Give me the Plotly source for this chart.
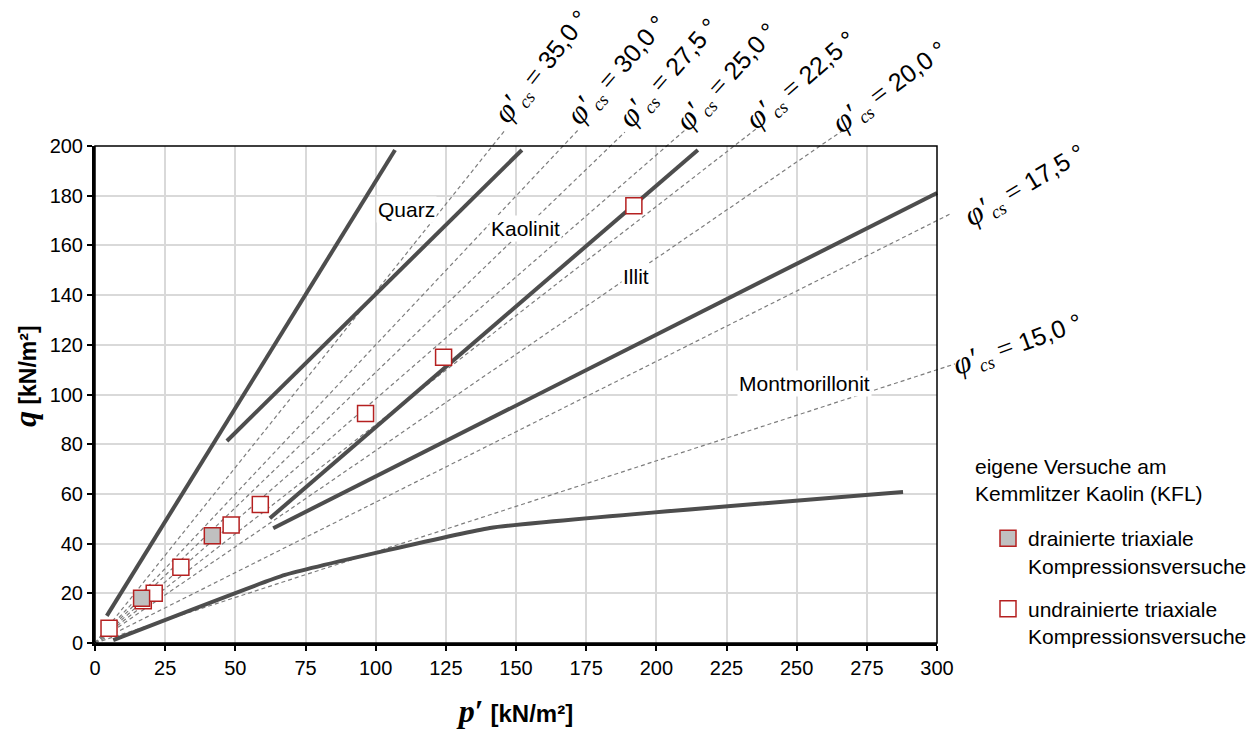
import plotly.graph_objects as go

# ---------------- data ----------------
x_ticks = [0, 25, 50, 75, 100, 125, 150, 175, 200, 225, 250, 275, 300]
y_ticks = [0, 20, 40, 60, 80, 100, 120, 140, 160, 180, 200]

# own tests on Kemmlitzer Kaolin (KFL)
undrained_p = [5.0, 17.2, 21.1, 30.6, 48.5, 58.9, 96.4, 124.2, 192.0]
undrained_q = [5.9, 17.0, 20.0, 30.5, 47.5, 55.7, 92.4, 115.0, 176.0]
drained_p = [16.6, 41.8]
drained_q = [18.0, 43.2]

# critical state lines (from origin to the label end)
cs_labels = ["35,0", "30,0", "27,5", "25,0", "22,5", "20,0", "17,5", "15,0"]
cs_end_p = [146.1, 172.1, 188.8, 210.2, 235.9, 266.6, 304.6, 306.4]
cs_end_q = [206.4, 206.4, 205.6, 206.4, 207.2, 206.4, 172.6, 112.3]

# mineral band boundaries (solid lines)
line1_p, line1_q = [4.2, 106.9], [10.9, 198.4]
line2_p, line2_q = [47.0, 152.1], [81.3, 198.4]
line3_p, line3_q = [62.3, 214.8], [50.2, 198.4]
line4_p, line4_q = [63.5, 300.0], [46.2, 181.1]
line5_p, line5_q = [6.5, 67.7, 140.7, 287.9], [1.2, 27.4, 46.3, 60.8]
mineral_names = ["Quarz", "Kaolinit", "Illit", "Montmorillonit"]

# ---------------- layout constants (pixels) ----------------
W, H = 1257, 729
PL, PR, PT, PB = 95, 937, 146, 643
X_MAX, Y_MAX = 300, 200
sx = X_MAX / (PR - PL)
sy = Y_MAX / (PB - PT)


def fx(px):
    return px / W


def fy(py):
    return 1 - py / H


SANS = "Liberation Sans, Arial, sans-serif"
SOLID = "#4d4d4d"
RED = "#b52020"

fig = go.Figure()

# invisible placeholder so the framed subplot exists
fig.add_trace(go.Scatter(x=[None], y=[None], xaxis="x", yaxis="y",
                         showlegend=False, hoverinfo="skip"))

# dashed critical-state lines (overlay axes with identical scale, not clipped)
for lab, pe, qe in zip(cs_labels, cs_end_p, cs_end_q):
    fig.add_trace(go.Scatter(x=[0, pe], y=[0, qe], mode="lines",
                             xaxis="x2", yaxis="y2", showlegend=False,
                             line=dict(color="#7d7d7d", width=1.2, dash="4px,3px"),
                             hoverinfo="skip"))

# solid boundary lines
for lp, lq in [(line1_p, line1_q), (line2_p, line2_q), (line3_p, line3_q),
               (line4_p, line4_q)]:
    fig.add_trace(go.Scatter(x=lp, y=lq, mode="lines", xaxis="x2", yaxis="y2",
                             showlegend=False, line=dict(color=SOLID, width=4),
                             hoverinfo="skip"))
fig.add_trace(go.Scatter(x=line5_p, y=line5_q, mode="lines", xaxis="x2", yaxis="y2",
                         showlegend=False,
                         line=dict(color=SOLID, width=4, shape="spline", smoothing=0.3),
                         hoverinfo="skip"))

# measured points
fig.add_trace(go.Scatter(x=undrained_p, y=undrained_q, mode="markers",
                         xaxis="x2", yaxis="y2",
                         name="undrainierte triaxiale<br>Kompressionsversuche",
                         legendgroup="u", legendrank=2,
                         marker=dict(symbol="square", size=16, color="white",
                                     line=dict(color=RED, width=1.5))))
fig.add_trace(go.Scatter(x=drained_p, y=drained_q, mode="markers",
                         xaxis="x2", yaxis="y2",
                         name="drainierte triaxiale<br>Kompressionsversuche",
                         legendgroup="d", legendrank=1,
                         marker=dict(symbol="square", size=16, color="#c0c0c0",
                                     line=dict(color=RED, width=1.5))))

annotations = []

# critical-state labels
cs_centers = [(541, 66), (617, 70), (668, 72), (726, 76), (801, 80), (889, 86),
              (1024, 184), (1017, 343)]
cs_angles = [-52, -49, -49, -48, -41, -37, -31, -20]
for lab, (cx, cy), ang in zip(cs_labels, cs_centers, cs_angles):
    txt = ("<span style='font-family:Liberation Serif;font-size:31px'><i>φ′</i></span>"
           "<span style='font-family:Liberation Serif;font-size:26px'><sub><i>cs</i></sub></span>"
           "<span style='font-family:Liberation Serif;font-size:28px'> = </span>" + lab + " °")
    annotations.append(dict(text=txt, x=fx(cx), y=fy(cy), xref="paper", yref="paper",
                            xanchor="center", yanchor="middle", showarrow=False,
                            textangle=ang, font=dict(family=SANS, size=25, color="black")))

# mineral labels
mineral_centers = [(406, 209), (525, 229), (636, 276), (804, 383)]
for name, (cx, cy) in zip(mineral_names, mineral_centers):
    annotations.append(dict(text=name, x=fx(cx), y=fy(cy), xref="paper", yref="paper",
                            xanchor="center", yanchor="middle", showarrow=False,
                            bgcolor="white", borderpad=1,
                            font=dict(family=SANS, size=21, color="black")))

# legend heading
annotations.append(dict(text="eigene Versuche am<br>Kemmlitzer Kaolin (KFL)",
                        x=fx(973), y=fy(453), xref="paper", yref="paper",
                        xanchor="left", yanchor="top", align="left", showarrow=False,
                        font=dict(family=SANS, size=21, color="black")))

# y axis title
annotations.append(dict(text="<b><span style='font-family:Liberation Serif;font-size:32px'><i>q</i></span> [kN/m²]</b>",
                        x=fx(25), y=fy(376), xref="paper", yref="paper",
                        xanchor="center", yanchor="middle", textangle=-90,
                        showarrow=False, font=dict(family=SANS, size=23, color="black")))

axis_common = dict(showline=True, linewidth=3, linecolor="black", mirror=False,
                   showgrid=True, gridcolor="#d9d9d9", gridwidth=1.5,
                   zeroline=False, ticks="outside", ticklen=5, tickwidth=2,
                   tickcolor="black", automargin=False,
                   tickfont=dict(family=SANS, size=20, color="black"))

fig.update_layout(
    width=W, height=H, margin=dict(l=0, r=0, t=0, b=0, autoexpand=False),
    paper_bgcolor="white", plot_bgcolor="rgba(0,0,0,0)",
    font=dict(family=SANS, color="black"),
    xaxis=dict(domain=[fx(PL), fx(PR)], range=[0, X_MAX], tickvals=x_ticks,
               anchor="y",
               title=dict(text="<b><span style='font-family:Liberation Serif;font-size:32px'><i>p</i>′</span> [kN/m²]</b>",
                          font=dict(family=SANS, size=24, color="black"), standoff=29),
               **axis_common),
    yaxis=dict(domain=[fy(PB), fy(PT)], range=[0, Y_MAX], tickvals=y_ticks,
               anchor="x", **axis_common),
    xaxis2=dict(domain=[0, 1], range=[-PL * sx, (W - PL) * sx], anchor="y2",
                visible=False, fixedrange=True),
    yaxis2=dict(domain=[0, 1], range=[-(H - PB) * sy, PB * sy], anchor="x2",
                visible=False, fixedrange=True),
    legend=dict(x=fx(988), y=fy(518), xanchor="left", yanchor="top",
                valign="top", tracegroupgap=13, bgcolor="rgba(0,0,0,0)",
                font=dict(family=SANS, size=21, color="black")),
    annotations=annotations,
    shapes=[dict(type="rect", xref="x domain", yref="y domain", x0=0, x1=1, y0=0, y1=1,
                 line=dict(color="black", width=1.5), layer="above")],
)

fig.write_html("out.html")
